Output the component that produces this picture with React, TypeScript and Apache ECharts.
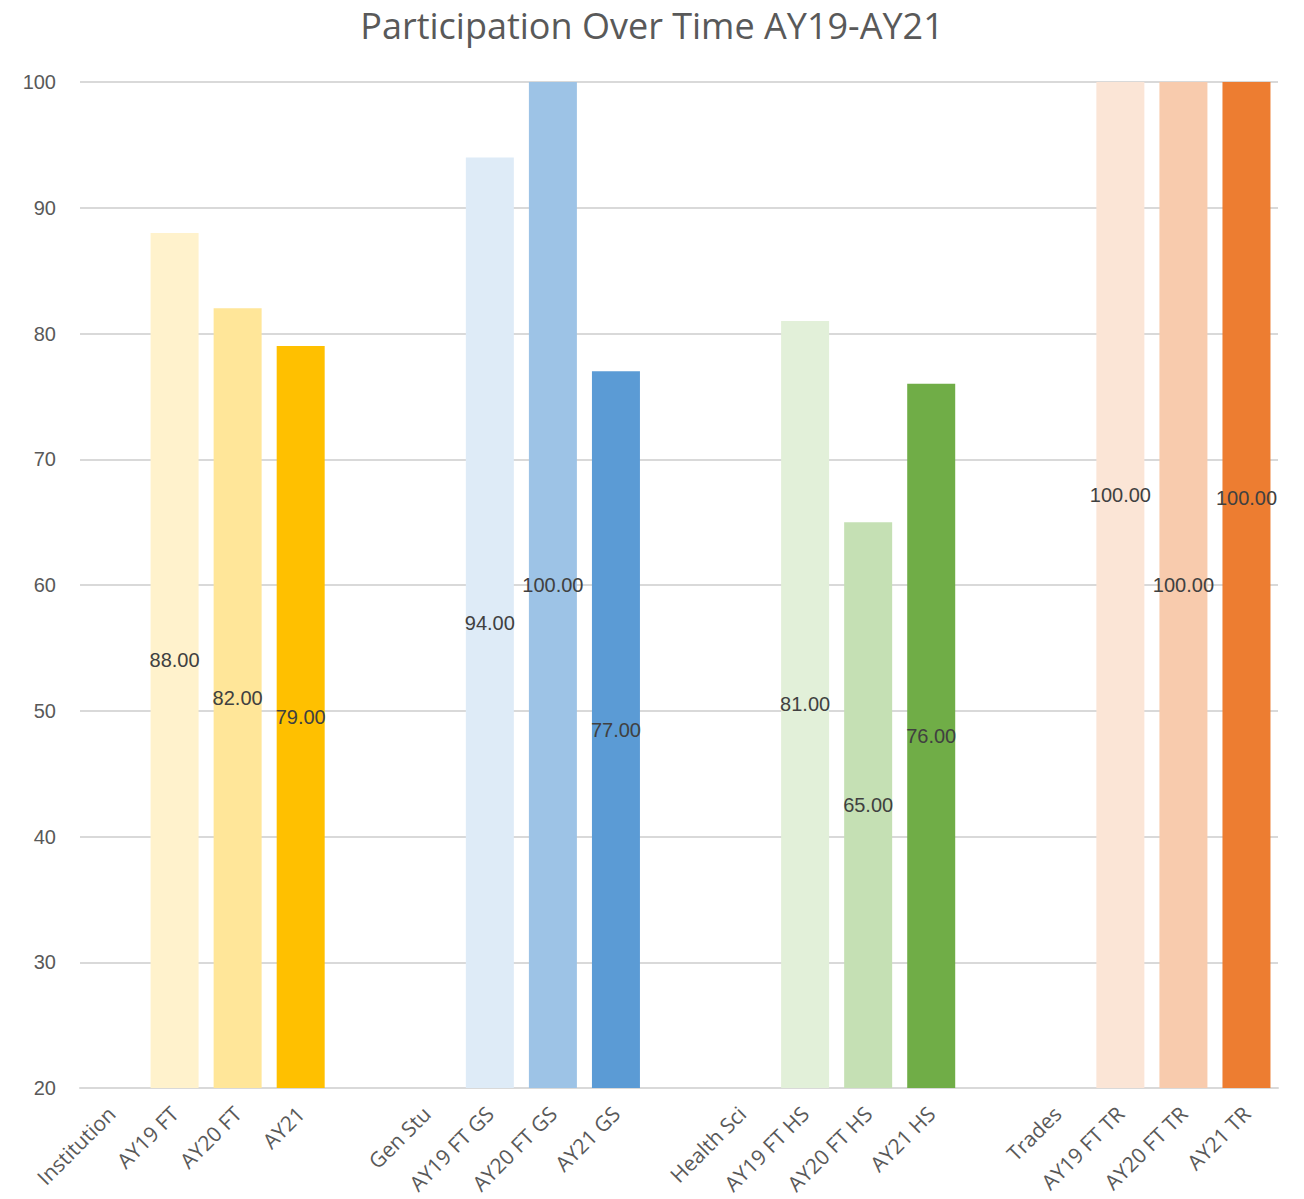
import React, { useEffect, useRef } from "react";
import * as echarts from "echarts";

const categories = [
  "Institution", "AY19 FT", "AY20 FT", "AY21", "",
  "Gen Stu", "AY19 FT GS", "AY20 FT GS", "AY21 GS", " ",
  "Health Sci", "AY19 FT HS", "AY20 FT HS", "AY21 HS", "  ",
  "Trades", "AY19 FT TR", "AY20 FT TR", "AY21 TR",
];
const values: (number | null)[] = [
  null, 88, 82, 79, null,
  null, 94, 100, 77, null,
  null, 81, 65, 76, null,
  null, 100, 100, 100,
];
const barColors = [
  "#FFF2CC", "#FFF2CC", "#FFE699", "#FFC000", "#FFFFFF",
  "#DEEBF7", "#DEEBF7", "#9DC3E6", "#5B9BD5", "#FFFFFF",
  "#E2F0D9", "#E2F0D9", "#C5E0B4", "#70AD47", "#FFFFFF",
  "#FBE5D6", "#FBE5D6", "#F8CBAD", "#ED7D31",
];
const yTicks = { min: 20, max: 100, interval: 10 };
const titleText = "Participation Over Time AY19-AY21";

// label vertical offsets (styling) for manually moved data labels
const labelOffsetY: Record<number, number> = { 16: -90, 18: -87 };

export default function App() {
  const ref = useRef<HTMLDivElement>(null);
  useEffect(() => {
    document.body.style.margin = "0";
    const chart = echarts.init(ref.current!, null, { renderer: "svg" });
    chart.setOption({
      animation: false,
      backgroundColor: "#FFFFFF",
      title: {
        text: titleText,
        left: "center",
        top: 5,
        padding: 0,
        textStyle: {
          fontFamily: "Open Sans",
          fontSize: 36,
          lineHeight: 40,
          fontWeight: "normal",
          color: "#595959",
        },
      },
      grid: { left: 80, right: 26, top: 82, bottom: 111, containLabel: false },
      xAxis: {
        type: "category",
        data: categories,
        axisLine: { lineStyle: { color: "#D9D9D9", width: 2 } },
        axisTick: { show: false },
        axisLabel: {
          interval: 0,
          rotate: 45,
          margin: 22,
          fontFamily: "Open Sans",
          fontSize: 21,
          color: "#595959",
        },
      },
      yAxis: {
        type: "value",
        min: yTicks.min,
        max: yTicks.max,
        interval: yTicks.interval,
        axisLine: { show: false },
        axisTick: { show: false },
        splitLine: { lineStyle: { color: "#D9D9D9", width: 2 } },
        axisLabel: {
          margin: 24,
          fontFamily: "Liberation Sans",
          fontSize: 20,
          color: "#595959",
        },
      },
      series: [
        {
          type: "bar",
          barWidth: 48,
          data: values.map((v, i) => ({
            value: v,
            itemStyle: { color: barColors[i] },
            label: {
              show: v !== null,
              position: "inside",
              offset: [0, labelOffsetY[i] || 0],
              formatter: (p: any) => Number(p.value).toFixed(2),
              fontFamily: "Liberation Sans",
              fontSize: 20,
              color: "#404040",
            },
          })),
        },
      ],
    });
    return () => chart.dispose();
  }, []);
  return <div ref={ref} style={{ width: 1304, height: 1199 }} />;
}
